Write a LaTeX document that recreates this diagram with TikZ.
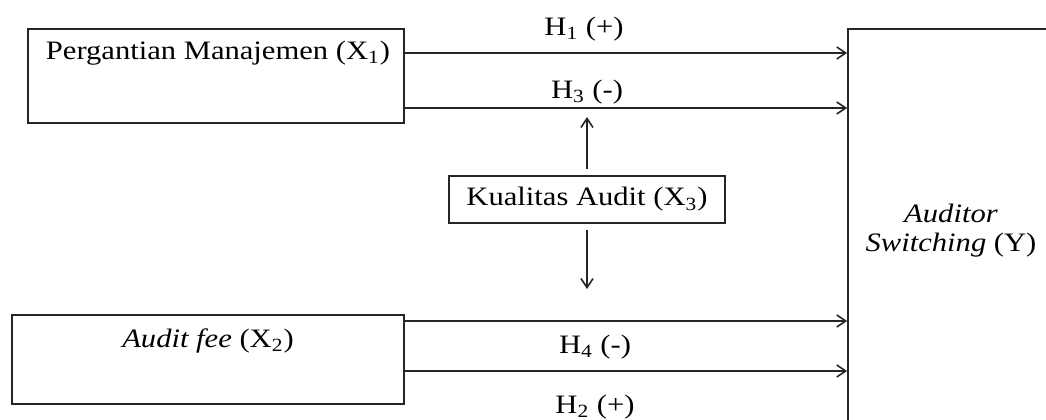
\documentclass[tikz,border=0pt]{standalone}
\usepackage{fontspec}
\setmainfont{Liberation Serif}[FakeStretch=1.15]
\usetikzlibrary{arrows.meta}
\begin{document}
\begin{tikzpicture}[x=0.5pt,y=-0.5pt,
  box/.style={draw=black!85, line width=0.8pt, inner sep=0pt},
  conn/.style={draw=black!85, line width=0.8pt, -{Straight Barb[length=4.5pt,width=6pt]}},
  txt/.style={font=\fontsize{13.3pt}{14.5pt}\selectfont, inner sep=0pt, text=black}]
\clip (0,0) rectangle (1046,419);
\useasboundingbox (0,0) rectangle (1046,419);
\fill[white] (0,0) rectangle (1046,419);
% boxes
\node[box, minimum width=188pt, minimum height=47pt] (X1) at (216,76) {};
\node[box, minimum width=196pt, minimum height=44.5pt] (X2) at (208,359.5) {};
\node[box, minimum width=138pt, minimum height=23.5pt, txt] (X3) at (587,199.5) {Kualitas Audit (X\textsubscript{3})};
\node[box, minimum width=110pt, minimum height=210pt] (Y) at (958,239) {};
% box texts
\node[txt, anchor=base] (t1) at (218,59) {Pergantian Manajemen (X\textsubscript{1})};
\node[txt, anchor=base] (t2) at (208,347) {\textit{Audit fee} (X\textsubscript{2})};
\node[txt, align=center] (ty) at (951,231) {\textit{Auditor}\\\textit{Switching} (Y)};
% rows
\coordinate (r1) at (600,53);
\coordinate (r3) at (600,108);
\coordinate (r4) at (600,321);
\coordinate (r2) at (600,371);
\draw[conn] (X1.east |- r1) -- (Y.west |- r1);
\draw[conn] (X1.east |- r3) -- (Y.west |- r3);
\draw[conn] (X2.east |- r4) -- (Y.west |- r4);
\draw[conn] (X2.east |- r2) -- (Y.west |- r2);
% moderating arrows
\coordinate (up) at (587,117);
\coordinate (dn) at (587,289);
\draw[conn, shorten <=3pt] (X3.north) -- (up);
\draw[conn, shorten <=3pt] (X3.south) -- (dn);
% labels
\node[txt, anchor=base] (h1) at (584,35) {H\textsubscript{1} (+)};
\node[txt, anchor=base] (h3) at (587,98) {H\textsubscript{3} (-)};
\node[txt, anchor=base] (h4) at (595,353) {H\textsubscript{4} (-)};
\node[txt, anchor=base] (h2) at (595,413) {H\textsubscript{2} (+)};
\end{tikzpicture}
\end{document}
